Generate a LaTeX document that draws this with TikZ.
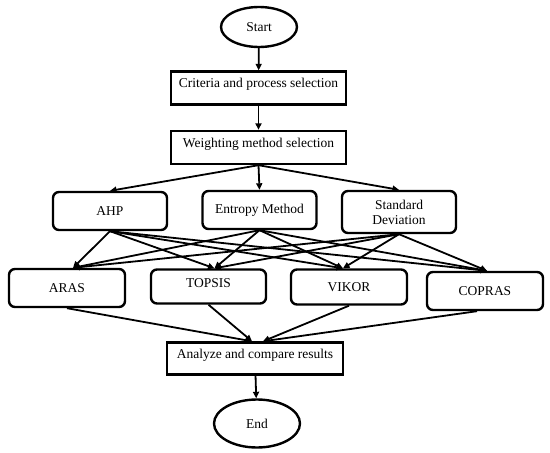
\documentclass[tikz,border=0pt]{standalone}
\usepackage{fontspec}
\setmainfont{Liberation Serif}
\usetikzlibrary{arrows.meta,shapes.geometric,positioning,calc}

\begin{document}
\begin{tikzpicture}[
    x=1pt, y=-1pt,
    term/.style={draw, ellipse, line width=2.4pt, inner sep=0pt, font=\fontsize{13.5}{15}\selectfont},
    sbox/.style={draw, line width=2.4pt, minimum width=175pt, minimum height=33pt, inner sep=0pt, text height=9pt, text depth=10pt, font=\fontsize{13.5}{15}\selectfont},
    mbox/.style={draw, rounded corners=6pt, line width=2.4pt, minimum width=114pt, minimum height=38pt, inner sep=0pt, align=center, font=\fontsize{13.5}{15}\selectfont},
    arr/.style={-{Triangle[length=6.5pt, width=6pt]}, line width=1.8pt}
]
\useasboundingbox (0,0) rectangle (550,453);

\node[term, minimum width=76pt, minimum height=40pt] (start) at (259,27) {Start};
\node[sbox] (crit) at (258.5,88) {Criteria and process selection};
\node[sbox] (wgt) at (258.5,147.5) {Weighting method selection};

\node[mbox] (ahp) at (110,211) {AHP};
\node[mbox] (ent) at (259.5,210) {Entropy Method};
\node[mbox, minimum height=42pt] (sd) at (399,212) {Standard\\Deviation};

\node[mbox, minimum width=116pt] (aras) at (67,288) {ARAS};
\node[mbox, minimum width=115pt, minimum height=34pt, text depth=7pt] (topsis) at (208.5,286.5) {TOPSIS};
\node[mbox, minimum width=116pt, minimum height=35pt] (vikor) at (349,287) {VIKOR};
\node[mbox, minimum width=116pt] (copras) at (485,291) {COPRAS};

\node[sbox, minimum width=176pt, minimum height=32pt] (ana) at (255,358.5) {Analyze and compare results};
\node[term, minimum width=86pt, minimum height=48pt] (end) at (257,423.5) {End};

\draw[arr] (start) -- (crit);
\draw[arr] (crit) -- (wgt);
\draw[arr] (wgt.south) -- (ahp.north);
\draw[arr] (wgt.south) -- (ent.north);
\draw[arr] (wgt.south) -- (sd.north);

% weighting methods to ranking methods
\draw[arr] (ahp.south) -- ($(aras.north)+(6,0)$);
\draw[arr] (ahp.south) -- ($(topsis.north)+(6,0)$);
\draw[arr] (ahp.south) -- ($(vikor.north)+(-6,0)$);
\draw[arr] (ahp.south) -- ($(copras.north)+(2,0)$);
\draw[arr] (ent.south) -- ($(aras.north)+(6,0)$);
\draw[arr] (ent.south) -- ($(topsis.north)+(6,0)$);
\draw[arr] (ent.south) -- ($(vikor.north)+(-6,0)$);
\draw[arr] (ent.south) -- ($(copras.north)+(2,0)$);
\draw[arr] (sd.south) -- ($(aras.north)+(6,0)$);
\draw[arr] (sd.south) -- ($(topsis.north)+(6,0)$);
\draw[arr] (sd.south) -- ($(vikor.north)+(-6,0)$);
\draw[arr] (sd.south) -- ($(copras.north)+(2,0)$);

% ranking methods to comparison
\coordinate (inl) at ($(ana.north)+(-3,0)$);
\coordinate (inr) at ($(ana.north)+(8,0)$);
\draw[arr] (aras.south) -- (inl);
\draw[arr] (topsis.south) -- (inl);
\draw[arr] (vikor.south) -- (inr);
\draw[arr] ($(copras.south)+(-8,0)$) -- (inr);
\draw[arr] (ana) -- (end);
\end{tikzpicture}
\end{document}
